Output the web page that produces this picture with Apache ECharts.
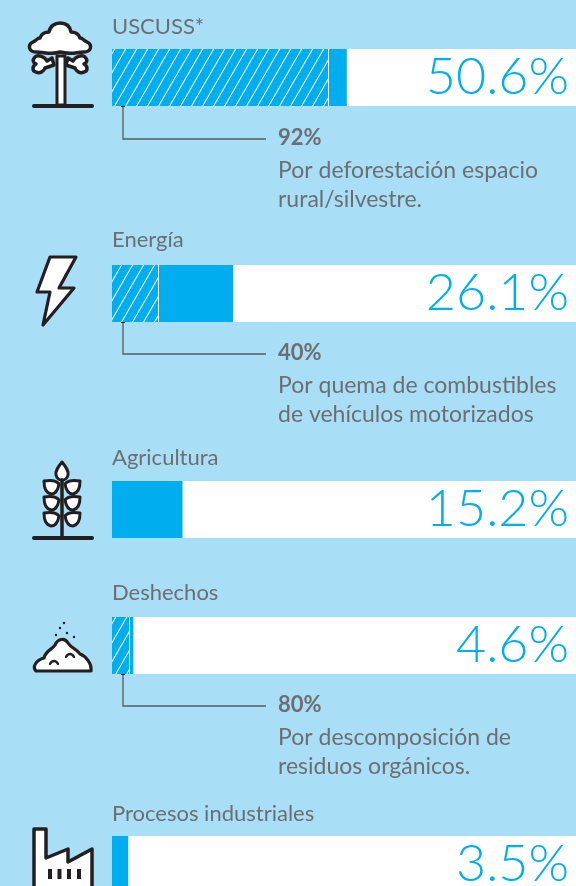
<!DOCTYPE html>
<html lang="es">
<head>
  <meta charset="UTF-8">
  <title>Emisiones por sector</title>
  <script src="https://cdn.jsdelivr.net/npm/echarts@6/dist/echarts.min.js"></script>
  <style>
    html, body { margin: 0; padding: 0; background: #a8dff7; }
    #chart { width: 576px; height: 886px; }
  </style>
</head>
<body>
<div id="chart"></div>
<script>
  const categories = ['USCUSS*', 'Energía', 'Agricultura', 'Deshechos', 'Procesos industriales'];
  const totals = [50.6, 26.1, 15.2, 4.6, 3.5];
  const hatched = [46.6, 10.0, 0, 3.7, 0];
  const shares = ['92%', '40%', '', '80%', ''];
  const notes = [
    ['Por deforestación espacio', 'rural/silvestre.'],
    ['Por quema de combustibles', 'de vehículos motorizados'],
    [],
    ['Por descomposición de', 'residuos orgánicos.'],
    []
  ];

  const barTops = [49, 265, 481, 617, 836];
  const labelY = [27, 240, 458, 593, 814];
  const leaderY = [139, 354, 0, 706, 0];

  const BLUE = '#00aeef';
  const GREY = '#6d6e71';
  const INK = '#231f20';
  const FONT = 'Lato';

  // tile for the diagonal hatch
  function hatchTile() {
    const c = document.createElement('canvas');
    c.width = 11;
    c.height = 19;
    const ctx = c.getContext('2d');
    ctx.fillStyle = BLUE;
    ctx.fillRect(0, 0, 11, 19);
    ctx.strokeStyle = '#fff';
    ctx.lineWidth = 1.1;
    [-11, 0, 11].forEach(function (dx) {
      ctx.beginPath();
      ctx.moveTo(dx, 19);
      ctx.lineTo(dx + 11, 0);
      ctx.stroke();
    });
    return c;
  }
  const tile = hatchTile();

  function text(x, y, str, size, color, extra) {
    return {
      type: 'text', x: x, y: y, silent: true,
      style: Object.assign({
        text: str, fontFamily: FONT, fontSize: size, fill: color,
        textAlign: 'left', textVerticalAlign: 'middle'
      }, extra || {})
    };
  }

  function icon(d, fill, width) {
    return {
      type: 'path',
      shape: { pathData: d },
      style: { fill: fill, stroke: INK, lineWidth: width, lineJoin: 'round', lineCap: 'round' }
    };
  }

  function leaf(y, side) {
    const m = function (x) { return side < 0 ? x : 124 - x; };
    return 'M' + m(44) + ',' + y + ' C' + m(50) + ',' + (y - 1) + ' ' + m(56) + ',' + (y - 1) + ' ' + m(59) + ',' + (y + 3) +
      ' C' + m(58) + ',' + (y + 9) + ' ' + m(55) + ',' + (y + 13) + ' ' + m(51) + ',' + (y + 13) +
      ' C' + m(46) + ',' + (y + 12) + ' ' + m(44) + ',' + (y + 6) + ' ' + m(44) + ',' + y + ' Z';
  }

  const icons = [
    // arbol
    icon('M47,61 C45,57 38,54 35,57 C32,60 33,63 36,64 C32,66 32,71 36,72 C40,74 44,71 45,68 L54,65 L52,58 Z', '#fff', 3.5),
    icon('M73,61 C75,57 82,54 85,57 C88,60 87,63 84,64 C88,66 88,71 84,72 C80,74 76,71 75,68 L66,65 L68,58 Z', '#fff', 3.5),
    icon('M36,52 C29,52 27,45 33,42 C36,41 37,38 40,38 C41,34 45,32 49,32 C50,26 55,23 60,23 C66,23 70,26 71,32 C75,32 79,34 80,38 C83,38 84,41 87,42 C93,45 91,52 84,52 C76,52 72,55 60,52 C52,55 44,52 36,52 Z', '#fff', 3.5),
    icon('M57,56 L57,105 L65,105 L65,56 Z', '#fff', 3),
    icon('M34,106 L92,106', 'none', 4),
    // rayo
    icon('M50,257 L76,257 L59,288 L74,288 L43,325 L50,292 L37,292 Z', '#fff', 3.2),
    // trigo
    icon('M62,462 C66,467 69,471 68,475 C67,479 64,480 62,480 C60,480 57,479 56,475 C55,471 58,467 62,462 Z', '#fff', 3),
    icon(leaf(481, -1), '#fff', 3), icon(leaf(481, 1), '#fff', 3),
    icon(leaf(497, -1), '#fff', 3), icon(leaf(497, 1), '#fff', 3),
    icon(leaf(513, -1), '#fff', 3), icon(leaf(513, 1), '#fff', 3),
    icon('M62,480 L62,537', 'none', 3.5),
    icon('M34,538 L92,538', 'none', 4),
    // desechos
    icon('M36,671 C32,667 36,660 44,658 C46,650 52,650 55,645 C58,638 65,638 68,643 C71,648 77,649 80,654 C86,656 92,664 91,671 Z', '#fff', 3.2),
    icon('M50,664 C52,660 56,660 58,664', 'none', 2.4),
    icon('M66,657 C68,653 72,653 74,657', 'none', 2.4),
    // fabrica
    icon('M34,900 L34,829 L46,829 L46,858 L68,849 L68,862 L92,849 L92,900', '#fff', 3.5)
  ];
  [[64, 623], [60, 628], [67, 633], [56, 635], [74, 637]].forEach(function (p) {
    icons.push({ type: 'circle', shape: { cx: p[0], cy: p[1], r: 1.2 }, style: { fill: INK } });
  });
  [48, 57.5, 67, 77].forEach(function (x) {
    icons.push({ type: 'rect', shape: { x: x, y: 869, width: 4, height: 10 }, style: { fill: INK } });
  });

  const grids = [], xAxes = [], yAxes = [], series = [], texts = [];

  categories.forEach(function (name, i) {
    grids.push({ show: true, left: 112, width: 464, top: barTops[i], height: 57, backgroundColor: '#fff', borderWidth: 0 });
    xAxes.push({ type: 'value', gridIndex: i, min: 0, max: 100, show: false });
    yAxes.push({ type: 'category', gridIndex: i, data: [name], show: false });

    series.push({
      type: 'bar', name: name + ' parcial', xAxisIndex: i, yAxisIndex: i, stack: 's' + i,
      barWidth: '100%', silent: true, animation: false,
      itemStyle: { color: { image: tile, repeat: 'repeat' } },
      data: [hatched[i]],
      markLine: hatched[i] ? {
        silent: true, symbol: 'none', animation: false,
        label: { show: false },
        lineStyle: { color: '#fff', width: 1, type: 'solid' },
        data: [{ xAxis: hatched[i] }]
      } : undefined
    });
    series.push({
      type: 'bar', name: name, xAxisIndex: i, yAxisIndex: i, stack: 's' + i,
      barWidth: '100%', silent: true, animation: false,
      itemStyle: { color: BLUE },
      data: [+(totals[i] - hatched[i]).toFixed(1)]
    });

    texts.push(text(112, labelY[i], name, 22, GREY));
    texts.push(text(569, barTops[i] + 28, totals[i].toFixed(1) + '%', 52, BLUE, { textAlign: 'right', fontWeight: 300 }));

    if (shares[i]) {
      const ly = leaderY[i];
      texts.push({
        type: 'polyline', silent: true,
        shape: { points: [[123, barTops[i] + 56], [123, ly], [266, ly]] },
        style: { stroke: '#58595b', lineWidth: 1.3, fill: 'none' }
      });
      texts.push({
        type: 'rect', silent: true,
        shape: { x: 121, y: barTops[i] + 54, width: 4, height: 4 },
        style: { fill: INK }
      });
      texts.push(text(278, ly - 1, shares[i], 22, GREY, { fontWeight: 'bold' }));
      notes[i].forEach(function (line, k) {
        texts.push(text(278, ly + 32 + k * 29, line, 23, GREY));
      });
    }
  });

  // pictogramas, drawn through a custom series because graphic has no path type
  series.push({
    type: 'custom', coordinateSystem: 'none', silent: true, animation: false,
    data: [0],
    renderItem: function () {
      return { type: 'group', children: icons };
    }
  });

  const chart = echarts.init(document.getElementById('chart'));
  chart.setOption({
    backgroundColor: '#a8dff7',
    animation: false,
    grid: grids,
    xAxis: xAxes,
    yAxis: yAxes,
    series: series,
    graphic: { elements: texts }
  });
</script>
</body>
</html>
